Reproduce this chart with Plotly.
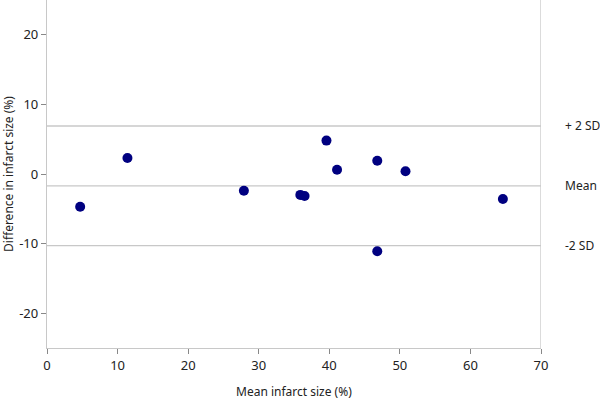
import plotly.graph_objects as go

# Bland-Altman style data
mean_size = [4.7, 11.4, 27.9, 35.9, 36.5, 39.6, 41.1, 46.8, 50.8, 46.8, 64.6]
diff_size = [-4.7, 2.3, -2.4, -3.0, -3.15, 4.8, 0.6, 1.9, 0.4, -11.1, -3.6]

bias = -1.72
upper_loa = 6.9
lower_loa = -10.3

line_labels = ["+ 2 SD", "Mean", "-2 SD"]
line_values = [upper_loa, bias, lower_loa]

x_ticks = [0, 10, 20, 30, 40, 50, 60, 70]
y_ticks = [-20, -10, 0, 10, 20]

GRID = "#c8c8c8"
FONT = "Noto Sans"
TXT = "#222222"

fig = go.Figure()

# reference lines (mean and +/- 2 SD)
for val in line_values:
    fig.add_shape(type="line", xref="x", yref="y",
                  x0=0, x1=70, y0=val, y1=val,
                  line=dict(color=GRID, width=1.3), layer="below")

# right border
fig.add_shape(type="line", xref="x", yref="paper",
              x0=70, x1=70, y0=0, y1=1,
              line=dict(color=GRID, width=1.3), layer="below")

fig.add_trace(go.Scatter(
    x=mean_size, y=diff_size,
    mode="markers",
    marker=dict(size=10, color="#000080"),
    showlegend=False,
    cliponaxis=False,
))

for label, val in zip(line_labels, line_values):
    fig.add_annotation(
        x=1.045, y=val, xref="paper", yref="y",
        text=label, showarrow=False, xanchor="left", yanchor="middle",
        font=dict(family=FONT, size=12, color=TXT),
    )

# axis titles
fig.add_annotation(x=0.5, y=-0.124, xref="paper", yref="paper",
                   text="Mean infarct size (%)", showarrow=False,
                   xanchor="center", yanchor="middle",
                   font=dict(family=FONT, size=12, color=TXT))
fig.add_annotation(x=-0.079, y=0.5, xref="paper", yref="paper",
                   text="Difference in infarct size (%)", showarrow=False,
                   textangle=-90, xanchor="center", yanchor="middle",
                   font=dict(family=FONT, size=12, color=TXT))

fig.update_layout(
    width=600, height=403,
    paper_bgcolor="white", plot_bgcolor="white",
    margin=dict(l=47, r=59, t=0, b=55, autoexpand=False),
    font=dict(family=FONT, size=13, color=TXT),
    xaxis=dict(
        range=[0, 70], tickvals=x_ticks, ticktext=[str(v) for v in x_ticks],
        showgrid=False, zeroline=False, automargin=False,
        showline=True, linecolor=GRID, linewidth=1.3,
        ticks="outside", ticklen=5, tickcolor="#888888",
    ),
    yaxis=dict(
        range=[-25, 25], tickvals=y_ticks,
        ticktext=[str(v) for v in y_ticks],
        showgrid=False, zeroline=False, automargin=False,
        showline=True, linecolor=GRID, linewidth=1.3,
        ticks="outside", ticklen=5, tickcolor="#888888",
    ),
)

# drop the browser's default body margin so the figure sits at 0,0
fig.write_html("out.html", config={"displayModeBar": False},
               post_script="document.body.style.margin='0';")
